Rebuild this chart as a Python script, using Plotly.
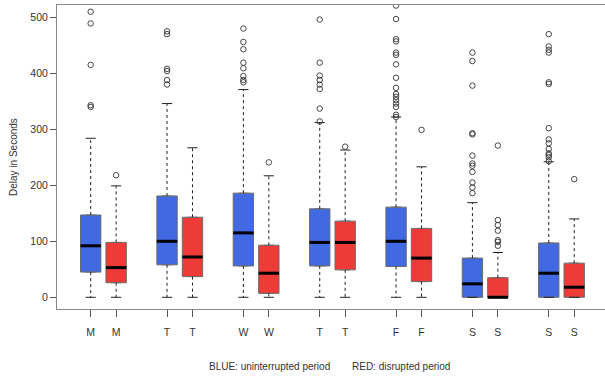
import plotly.graph_objects as go

# ---------------- data ----------------
days = ["M", "T", "W", "T", "F", "S", "S"]

blue_lo = [0, 0, 0, 0, 0, 0, 0]
blue_q1 = [45, 58, 56, 56, 55, 0, 0]
blue_med = [92, 100, 115, 98, 100, 24, 43]
blue_q3 = [147, 181, 186, 158, 161, 70, 97]
blue_hi = [284, 346, 371, 312, 322, 169, 242]
blue_out = [
    [510, 489, 415, 343, 340],
    [475, 470, 408, 404, 388, 380],
    [480, 456, 443, 419, 409, 395, 388, 384],
    [496, 419, 396, 388, 380, 372, 337, 314],
    [521, 497, 461, 457, 437, 433, 416, 392, 374, 363, 358, 352, 346, 340, 326, 322],
    [437, 422, 378, 293, 291, 253, 239, 235, 224, 205, 196, 186],
    [470, 448, 442, 437, 384, 381, 302, 282, 275, 265, 257, 254, 250, 243],
]

red_lo = [0, 0, 0, 0, 0, 0, 0]
red_q1 = [26, 37, 7, 49, 28, 0, 0]
red_med = [53, 72, 43, 98, 70, 0, 18]
red_q3 = [98, 143, 93, 136, 123, 35, 61]
red_hi = [199, 267, 217, 263, 233, 80, 140]
red_out = [
    [218],
    [],
    [241],
    [269],
    [299],
    [271, 138, 129, 119, 102, 99, 92],
    [211],
]

y_ticks = [0, 100, 200, 300, 400, 500]

BLUE = "#4169E1"
RED = "#EE3B38"
FONT = "Liberation Sans, Arial, sans-serif"

pos_blue = [3 * i + 1 for i in range(len(days))]
pos_red = [3 * i + 2 for i in range(len(days))]

fig = go.Figure()

# boxes (whiskers drawn separately as dashed lines)
for pos, q1, med, q3, col in [
    (pos_blue, blue_q1, blue_med, blue_q3, BLUE),
    (pos_red, red_q1, red_med, red_q3, RED),
]:
    fig.add_trace(go.Box(
        x=pos, q1=q1, median=med, q3=q3, lowerfence=q1, upperfence=q3,
        width=0.8, fillcolor=col, line=dict(color="#6b6b6b", width=1),
        boxpoints=False, showlegend=False, hoverinfo="skip",
    ))


def seg(xs0, xs1, ys0, ys1):
    X, Y = [], []
    for a, b, c, d in zip(xs0, xs1, ys0, ys1):
        X += [a, b, None]
        Y += [c, d, None]
    return X, Y


for pos, lo, q1, med, q3, hi, outs in [
    (pos_blue, blue_lo, blue_q1, blue_med, blue_q3, blue_hi, blue_out),
    (pos_red, red_lo, red_q1, red_med, red_q3, red_hi, red_out),
]:
    # dashed whiskers
    X1, Y1 = seg(pos, pos, q3, hi)
    X2, Y2 = seg(pos, pos, q1, lo)
    fig.add_trace(go.Scatter(x=X1 + X2, y=Y1 + Y2, mode="lines",
                             line=dict(color="#222", width=1, dash="3px,3px"),
                             showlegend=False, hoverinfo="skip"))
    # staples
    xl = [p - 0.2 for p in pos]
    xr = [p + 0.2 for p in pos]
    X3, Y3 = seg(xl, xr, hi, hi)
    X4, Y4 = seg(xl, xr, lo, lo)
    fig.add_trace(go.Scatter(x=X3 + X4, y=Y3 + Y4, mode="lines",
                             line=dict(color="#222", width=1),
                             showlegend=False, hoverinfo="skip"))
    # medians
    X5, Y5 = seg([p - 0.4 for p in pos], [p + 0.4 for p in pos], med, med)
    fig.add_trace(go.Scatter(x=X5, y=Y5, mode="lines",
                             line=dict(color="black", width=3),
                             showlegend=False, hoverinfo="skip"))
    # outliers
    ox, oy = [], []
    for p, o in zip(pos, outs):
        ox += [p] * len(o)
        oy += o
    fig.add_trace(go.Scatter(x=ox, y=oy, mode="markers",
                             marker=dict(symbol="circle-open", size=5.5,
                                         color="#333", line=dict(width=0.9)),
                             showlegend=False, hoverinfo="skip", cliponaxis=True))

tickvals = []
ticktext = []
for b, r, d in zip(pos_blue, pos_red, days):
    tickvals += [b, r]
    ticktext += [d, d]

fig.update_layout(
    width=605, height=379,
    margin=dict(l=57, r=0, t=5, b=70),
    paper_bgcolor="white", plot_bgcolor="white",
    font=dict(family=FONT, size=10, color="#333"),
    xaxis=dict(range=[-0.324, 21.21], tickvals=tickvals, ticktext=ticktext,
               showgrid=False, zeroline=False, showline=True, mirror=True,
               linecolor="#888", linewidth=1, ticks="outside", ticklen=7,
               tickcolor="#555", tickfont=dict(size=10.5, color="#333"),
               ticklabelstandoff=6),
    yaxis=dict(range=[-20.9, 522], tickvals=y_ticks,
               showgrid=False, zeroline=False, showline=True,
               linecolor="#888", linewidth=1, ticks="outside", ticklen=6,
               tickcolor="#555", tickfont=dict(size=10.5, color="#333")),
    annotations=[
        dict(text="Delay in Seconds", xref="paper", yref="paper",
             x=-0.0803, y=0.5, textangle=-90, showarrow=False,
             xanchor="center", yanchor="middle", font=dict(size=10, color="#333")),
        dict(text="BLUE: uninterrupted period", xref="paper", yref="paper",
             x=0.502, y=-0.1875, showarrow=False, xanchor="right",
             yanchor="middle", font=dict(size=10, color="#333")),
        dict(text="RED: disrupted period", xref="paper", yref="paper",
             x=0.535, y=-0.1875, showarrow=False, xanchor="left",
             yanchor="middle", font=dict(size=10, color="#333")),
    ],
)

fig.write_html("out.html",
               config={"displayModeBar": False, "staticPlot": True},
               post_script="document.body.style.margin='0px';document.body.style.overflow='hidden';")
